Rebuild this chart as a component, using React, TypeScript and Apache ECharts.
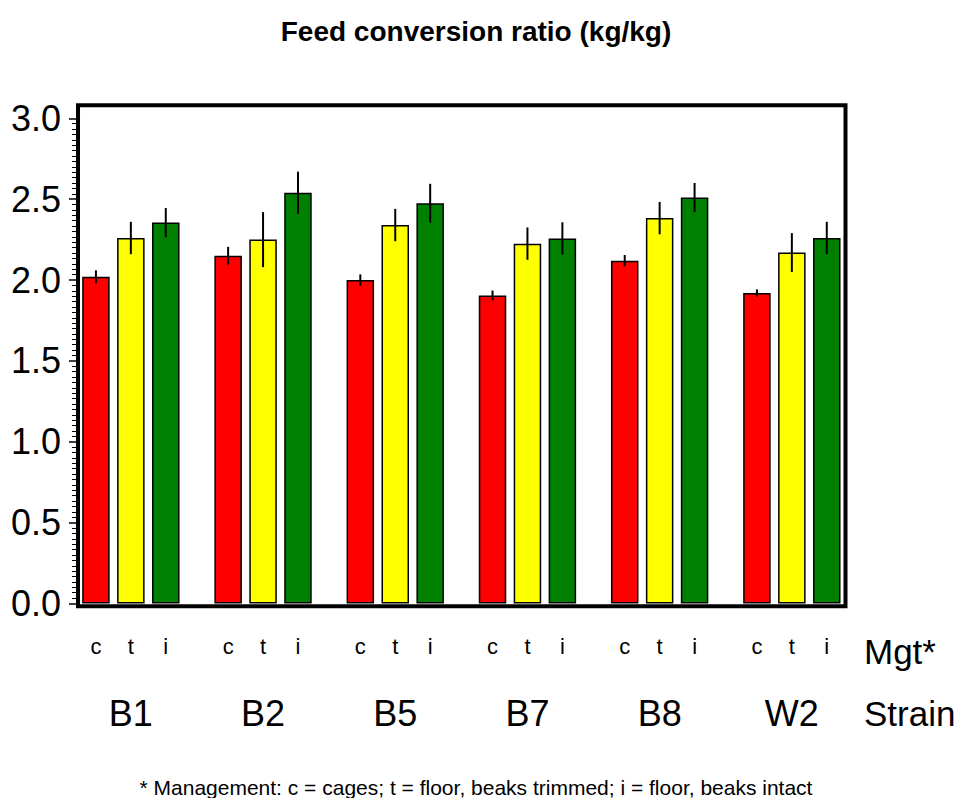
import React, { useEffect, useRef } from "react";
import * as echarts from "echarts";

const strains = ["B1", "B2", "B5", "B7", "B8", "W2"];
const mgtLabels = ["c", "t", "i"];
const mgtColors = ["#FF0000", "#FFFF00", "#008000"];
const cagesMean = [2.02, 2.15, 2.0, 1.905, 2.12, 1.92];
const cagesErr = [0.04, 0.055, 0.035, 0.03, 0.035, 0.022];
const trimmedMean = [2.26, 2.25, 2.34, 2.225, 2.383, 2.17];
const trimmedErr = [0.1, 0.17, 0.1, 0.1, 0.1, 0.12];
const intactMean = [2.355, 2.54, 2.475, 2.257, 2.51, 2.26];
const intactErr = [0.09, 0.13, 0.12, 0.1, 0.09, 0.1];
const yMin = 0;
const yMax = 3;
const yInterval = 0.5;

const FONT = "'Liberation Sans', Arial, Helvetica, sans-serif";

export default function App() {
  const ref = useRef<HTMLDivElement>(null);
  useEffect(() => {
    if (!ref.current) return;
    const chart = echarts.init(ref.current, null, { renderer: "svg" });
    const means = [cagesMean, trimmedMean, intactMean];
    const errs = [cagesErr, trimmedErr, intactErr];
    const barWidth = 27.5;
    const gapPct = 0.27;
    const step = barWidth * (1 + gapPct);

    const barSeries = means.map((m, s) => ({
      type: "bar",
      name: mgtLabels[s],
      xAxisIndex: 2,
      yAxisIndex: 2,
      data: m,
      barWidth,
      barGap: gapPct * 100 + "%",
      itemStyle: {
        color: mgtColors[s],
        borderColor: "#000",
        borderWidth: 1.5,
      },
      label: {
        show: true,
        position: "bottom",
        distance: 32,
        formatter: () => mgtLabels[s],
        fontSize: 22,
        lineHeight: 22,
        color: "#000",
        fontFamily: FONT,
      },
      z: 3,
    }));

    const errSeries = means.map((m, s) => ({
      type: "custom",
      xAxisIndex: 2,
      yAxisIndex: 2,
      data: m.map((v, i) => [i, v - errs[s][i], v + errs[s][i]]),
      renderItem: (params: any, api: any) => {
        const lo = api.coord([api.value(0), api.value(1)]);
        const hi = api.coord([api.value(0), api.value(2)]);
        const off = (s - 1) * step;
        return {
          type: "line",
          shape: { x1: lo[0] + off, y1: lo[1], x2: hi[0] + off, y2: hi[1] },
          style: { stroke: "#000", lineWidth: 2 },
        };
      },
      z: 5,
      silent: true,
    }));

    chart.setOption({
      animation: false,
      backgroundColor: "#fff",
      grid: [
        {
          left: 78,
          right: 115.5,
          top: 105.3,
          bottom: 191.7,
          show: true,
          borderColor: "#000",
          borderWidth: 4,
          backgroundColor: "transparent",
          z: 10,
        },
        { left: 78, right: 115.5, top: 118.3, bottom: 194.5 },
        { left: 64.75, right: 103.05, top: 118.3, bottom: 194.5 },
      ],
      xAxis: [
        { gridIndex: 0, type: "value", show: false },
        { gridIndex: 1, type: "category", data: strains, show: false },
        {
          gridIndex: 2,
          type: "category",
          data: strains,
          axisLine: { show: false },
          axisTick: { show: false },
          axisLabel: {
            margin: 92,
            fontSize: 36,
            lineHeight: 36,
            color: "#000",
            fontFamily: FONT,
          },
        },
      ],
      yAxis: [
        { gridIndex: 0, type: "value", show: false, min: 0, max: 1 },
        {
          gridIndex: 1,
          type: "value",
          min: yMin,
          max: yMax,
          interval: yInterval,
          axisLine: { show: true, lineStyle: { color: "#000", width: 4 } },
          axisTick: { show: true, length: 9, lineStyle: { color: "#000", width: 1.5 } },
          minorTick: { show: true, splitNumber: 15, length: 6, lineStyle: { color: "#000", width: 1 } },
          splitLine: { show: false },
          axisLabel: {
            formatter: (v: number) => v.toFixed(1),
            fontSize: 36,
            color: "#000",
            fontFamily: FONT,
            margin: 17,
          },
        },
        { gridIndex: 2, type: "value", min: yMin, max: yMax, show: false },
      ],
      graphic: [
        {
          type: "text",
          x: 476,
          y: 31,
          style: {
            text: "Feed conversion ratio (kg/kg)",
            font: "bold 28px " + FONT,
            fill: "#000",
            textAlign: "center",
            textVerticalAlign: "middle",
          },
        },
        {
          type: "text",
          x: 864,
          y: 651,
          style: {
            text: "Mgt*",
            font: "35px " + FONT,
            fill: "#000",
            textVerticalAlign: "middle",
          },
        },
        {
          type: "text",
          x: 864,
          y: 713,
          style: {
            text: "Strain",
            font: "35px " + FONT,
            fill: "#000",
            textVerticalAlign: "middle",
          },
        },
        {
          type: "text",
          x: 476,
          y: 787,
          style: {
            text: "* Management: c = cages; t = floor, beaks trimmed; i = floor, beaks intact",
            font: "21px " + FONT,
            fill: "#000",
            textAlign: "center",
            textVerticalAlign: "middle",
          },
        },
      ],
      series: [...barSeries, ...errSeries],
    });
    return () => chart.dispose();
  }, []);
  return (
    <div
      ref={ref}
      style={{ position: "fixed", left: 0, top: 0, width: 961, height: 798 }}
    />
  );
}
